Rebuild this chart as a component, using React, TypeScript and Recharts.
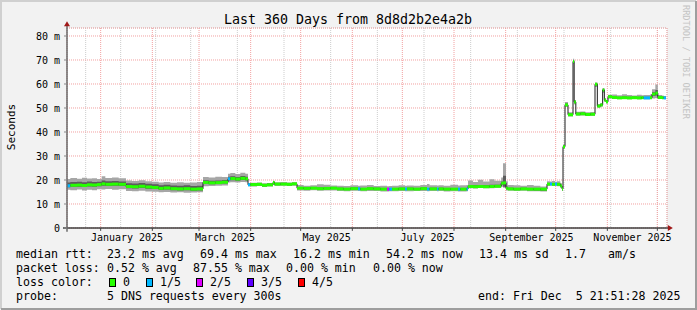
import React from "react";
import {
  ComposedChart,
  Area,
  Line,
  XAxis,
  YAxis,
  CartesianGrid,
  ReferenceLine,
  ReferenceDot,
} from "recharts";

const FONT = "'DejaVu Sans Mono', monospace";

// days since start of the 360 day window
const days = [
  0, 2, 6, 9, 12, 15, 18, 20.8, 23, 27, 31, 35.4, 39, 43, 47, 51, 55, 58, 62, 66, 70, 74, 78,
  81.6, 85, 89, 93, 96.6, 98, 101, 104, 107, 108.6, 110, 114, 117, 120, 123.6, 124.5, 128, 132,
  135, 138, 142, 146, 150, 154, 158, 162, 166, 170, 174.6, 176, 180, 184, 188, 192, 193.3, 195,
  199, 202.8, 204, 208, 212, 216, 217.5, 222, 223, 226, 230, 234.6, 236, 239.8, 240.6, 243.6,
  246.6, 249.6, 253.5, 256.5, 260.5, 261.6, 263.4, 264.5, 268, 272, 276, 280, 284, 288, 289.8,
  291, 292.8, 294, 296, 297, 297.6, 298.8, 300.6, 303.6, 304.3, 305.3, 308, 311, 314, 316.8,
  318.2, 320, 321.4, 322.4, 323.4, 324.6, 327, 330, 333, 336, 339, 342, 344.8, 346, 349.8, 351,
  353, 354.5, 357, 358, 359.4,
];
// median rtt in ms
const median = [
  17.6, 17.8, 17.9, 17.7, 18.0, 17.9, 18.1, 18.4, 18.2, 18.3, 18.2, 17.3, 17.2, 17.4, 17.1, 16.9,
  16.5, 16.7, 16.4, 16.3, 16.4, 16.2, 16.3, 19.0, 18.8, 18.9, 19.1, 20.5, 20.6, 20.4, 20.7, 20.5,
  18.0, 18.1, 18.2, 17.8, 18.0, 19.0, 18.3, 18.3, 18.2, 18.4, 16.6, 16.5, 16.6, 16.4, 16.5, 16.6,
  16.3, 16.2, 16.4, 16.3, 16.2, 16.4, 16.3, 16.2, 16.2, 16.2, 16.2, 16.3, 16.2, 16.3, 16.2, 16.4,
  16.2, 16.3, 16.2, 16.3, 16.2, 16.2, 16.2, 16.2, 16.2, 17.3, 17.2, 17.3, 17.2, 17.3, 17.4, 18.6,
  18.8, 16.6, 16.3, 16.2, 16.3, 16.2, 16.2, 16.2, 18.3, 18.3, 18.2, 18.3, 18.2, 17.5, 16.3, 33.9,
  51.3, 47.2, 69.4, 52.5, 47.5, 47.6, 47.3, 47.4, 59.9, 50.8, 51.3, 57.5, 53.3, 52.6, 54.7, 54.4,
  54.2, 54.3, 54.2, 54.3, 54.2, 54.3, 54.2, 54.3, 55.8, 56.2, 54.4, 54.3, 54.2, 54.2,
];
// outer smoke band (min / max of the pings)
const smokeLow = [
  15.9, 15.7, 16.0, 15.6, 15.9, 15.7, 16.1, 16.0, 16.2, 15.9, 16.1, 15.4, 15.3, 15.5, 15.2, 15.1,
  14.9, 15.0, 14.8, 14.9, 14.7, 14.8, 14.9, 17.4, 17.5, 17.6, 17.7, 19.0, 19.1, 19.0, 19.2, 19.1,
  17.4, 17.3, 17.5, 17.1, 17.3, 18.0, 17.5, 17.6, 17.5, 17.6, 15.6, 15.5, 15.7, 15.5, 15.6, 15.6,
  15.4, 15.3, 15.5, 15.4, 15.3, 15.4, 15.4, 15.2, 15.2, 15.3, 15.3, 15.4, 15.3, 15.3, 15.4, 15.4,
  15.3, 15.4, 15.3, 15.4, 15.2, 15.3, 15.2, 15.2, 15.3, 16.6, 16.5, 16.7, 16.6, 16.6, 16.7, 17.2,
  16.8, 15.6, 15.5, 15.4, 15.5, 15.3, 15.3, 15.2, 17.5, 17.6, 17.6, 17.5, 17.4, 16.8, 15.4, 33.0,
  50.4, 46.5, 68.5, 51.5, 46.8, 46.9, 46.7, 46.8, 58.8, 50.1, 50.5, 56.4, 52.6, 51.9, 54.0, 53.8,
  53.7, 53.8, 53.6, 53.7, 53.6, 53.7, 53.6, 53.7, 54.0, 54.2, 53.7, 53.8, 53.7, 53.7,
];
const smokeHigh = [
  20.4, 20.8, 20.5, 20.9, 20.6, 20.7, 20.4, 21.6, 20.8, 21.0, 20.7, 19.8, 19.6, 19.9, 19.5, 19.3,
  19.0, 19.2, 18.9, 19.1, 18.9, 19.0, 19.2, 21.3, 21.0, 21.4, 21.2, 22.6, 22.9, 22.5, 23.0, 22.6,
  18.8, 18.9, 19.0, 18.6, 18.8, 19.7, 19.1, 19.2, 19.0, 19.1, 17.9, 17.6, 17.8, 18.2, 18.0, 17.7,
  17.6, 17.5, 17.8, 17.6, 17.7, 17.9, 17.5, 17.6, 17.4, 17.5, 17.6, 17.8, 17.6, 17.7, 17.6, 17.9,
  18.3, 17.8, 17.7, 17.8, 17.6, 18.0, 17.7, 17.8, 17.9, 19.8, 19.2, 20.1, 19.4, 20.3, 19.7, 21.0,
  27.0, 19.5, 17.9, 17.8, 17.6, 17.9, 17.6, 17.3, 19.5, 19.4, 19.6, 19.3, 19.5, 18.6, 17.0, 34.8,
  52.5, 48.2, 70.5, 53.3, 48.4, 48.5, 48.2, 48.3, 60.6, 51.7, 52.0, 58.2, 54.1, 53.4, 55.5, 55.6,
  55.3, 55.7, 55.4, 55.2, 55.5, 55.3, 55.4, 55.6, 57.8, 59.8, 55.4, 55.2, 55.0, 55.0,
];
// darker inner smoke band
const coreLow = [
  17.0, 17.2, 17.2, 17.1, 17.3, 17.2, 17.4, 17.6, 17.5, 17.6, 17.5, 16.6, 16.5, 16.7, 16.4, 16.2,
  15.8, 16.0, 15.7, 15.6, 15.7, 15.5, 15.6, 18.4, 18.2, 18.3, 18.5, 19.8, 19.9, 19.7, 20.0, 19.8,
  17.6, 17.7, 17.8, 17.4, 17.6, 18.5, 17.9, 17.9, 17.8, 18.0, 16.2, 16.1, 16.2, 16.0, 16.1, 16.2,
  15.9, 15.8, 16.0, 15.9, 15.8, 16.0, 15.9, 15.8, 15.6, 15.7, 15.8, 15.9, 15.8, 15.9, 15.8, 16.0,
  15.8, 15.9, 15.8, 15.9, 15.7, 15.8, 15.6, 15.7, 15.7, 17.0, 16.9, 17.0, 16.9, 17.0, 17.1, 18.0,
  17.2, 16.2, 15.9, 15.8, 15.9, 15.7, 15.6, 15.5, 17.9, 17.9, 17.8, 17.9, 17.8, 17.1, 15.7, 33.4,
  50.9, 46.8, 69.0, 52.0, 47.1, 47.2, 46.9, 47.0, 59.4, 50.4, 50.9, 57.0, 52.9, 52.2, 54.3, 54.0,
  53.8, 53.9, 53.8, 53.9, 53.8, 53.9, 53.8, 53.9, 55.0, 55.2, 54.0, 53.9, 53.8, 53.8,
];
const coreHigh = [
  19.0, 19.2, 19.3, 19.1, 19.4, 19.2, 19.3, 19.8, 19.5, 19.6, 19.4, 18.6, 18.5, 18.7, 18.4, 18.2,
  17.8, 18.0, 17.7, 17.6, 17.8, 17.5, 17.6, 19.9, 19.7, 19.8, 20.0, 21.4, 21.6, 21.3, 21.7, 21.4,
  18.5, 18.6, 18.7, 18.3, 18.5, 19.4, 18.8, 18.8, 18.7, 18.9, 17.1, 17.0, 17.1, 16.9, 17.0, 17.1,
  16.8, 16.7, 16.9, 16.8, 16.7, 16.9, 16.8, 16.7, 16.5, 16.6, 16.7, 16.8, 16.7, 16.8, 16.7, 16.9,
  16.7, 16.8, 16.7, 16.8, 16.6, 16.7, 16.5, 16.6, 16.6, 17.9, 17.8, 17.9, 17.8, 18.0, 18.0, 19.4,
  21.8, 17.3, 16.8, 16.7, 16.8, 16.6, 16.5, 16.4, 18.8, 18.8, 18.7, 18.8, 18.7, 18.0, 16.6, 34.4,
  51.9, 47.7, 70.0, 53.0, 48.0, 48.1, 47.8, 47.9, 60.3, 51.3, 51.8, 58.0, 53.8, 53.1, 55.2, 54.9,
  54.7, 54.8, 54.7, 54.8, 54.7, 54.8, 54.7, 54.8, 56.6, 57.5, 54.9, 54.8, 54.7, 54.7,
];
// lost pings out of 5
const lossLevel = [
  1, 0, 0, 0, 0, 0, 0, 0, 0, 0, 0, 0, 0, 0, 0, 0, 0, 0, 0, 0, 0, 0, 0, 0, 0, 0, 0, 1, 0, 0, 0, 0,
  1, 0, 0, 0, 0, 0, 0, 0, 0, 0, 0, 0, 0, 0, 0, 0, 0, 0, 0, 1, 0, 0, 0, 0, 2, 1, 0, 0, 1, 0, 0, 0,
  1, 0, 1, 0, 0, 0, 1, 0, 1, 0, 0, 0, 0, 0, 0, 0, 0, 0, 0, 0, 0, 0, 0, 0, 0, 1, 0, 1, 0, 0, 0, 0,
  0, 0, 0, 0, 0, 0, 0, 0, 0, 0, 0, 0, 0, 0, 0, 0, 0, 0, 0, 0, 0, 0, 1, 0, 0, 0, 0, 0, 1, 0, 0,
];

const monthStarts = [20.2, 51.2, 79.2, 110.2, 140.2, 171.2, 201.2, 232.2, 263.2, 293.2, 324.2, 354.2];
const labelDays = [36, 94.8, 155.8, 216.3, 278.7, 339.3];
const monthLabels = ["January 2025", "March 2025", "May 2025", "July 2025", "September 2025", "November 2025"];
const weekTicks = Array.from({ length: 51 }, (_, i) => 4.2 + i * 7);
const yMajor = [0, 10, 20, 30, 40, 50, 60, 70, 80];
const yMinor = [5, 15, 25, 35, 45, 55, 65, 75];

const lossColors = ["#26ff00", "#00b8ff", "#dd00ff", "#5e00ff", "#ff0000"];
const lossLabels = ["0", "1/5", "2/5", "3/5", "4/5"];

const rttStats = [
  [16, "median rtt:"], [107, "23.2 ms avg"], [200, "69.4 ms max"], [293, "16.2 ms min"],
  [386, "54.2 ms now"], [479, "13.4 ms sd"], [565, "1.7"], [608, "am/s"],
];
const lossStats = [
  [16, "packet loss:"], [107, "0.52 % avg"], [193, "87.55 % max"], [286, "0.00 % min"], [373, "0.00 % now"],
];
const probeRow = [[16, "probe:"], [107, "5 DNS requests every 300s"], [478, "end: Fri Dec  5 21:51:28 2025"]];
const lossKeyX = [109, 146, 196, 247, 298];

const rows = days.map((d, i) => ({
  day: d,
  med: median[i],
  smoke: [smokeLow[i], smokeHigh[i]],
  core: [coreLow[i], coreHigh[i]],
  loss: lossLevel[i],
}));

const YMAX = 83.333;
const AX = { xAxisId: "lbl", yAxisId: "maj" };

const upArrow = (p: any) => (
  <path d={`M${p.cx - 3} ${p.cy + 2.5} L${p.cx} ${p.cy - 2.5} L${p.cx + 3} ${p.cy + 2.5} Z`} fill="#a01818" />
);
const rightArrow = (p: any) => (
  <path d={`M${p.cx - 2.5} ${p.cy - 3} L${p.cx + 2.5} ${p.cy} L${p.cx - 2.5} ${p.cy + 3} Z`} fill="#a01818" />
);

const Overlay = () => {
  const t = { fontFamily: FONT, fontSize: 11.6, fill: "#000", style: { whiteSpace: "pre" as const } };
  return (
    <svg width={697} height={310} style={{ position: "absolute", left: 0, top: 0, pointerEvents: "none" }}>
      <path d="M1 309 V1 H696" fill="none" stroke="#d0d0d0" strokeWidth={2} />
      <path d="M1 309 H696 V1" fill="none" stroke="#9e9e9e" strokeWidth={2} />
      <text x={348} y={24} textAnchor="middle" fontFamily={FONT} fontSize={13.3} fill="#000">
        Last 360 Days from 8d8d2b2e4a2b
      </text>
      <text x={14.5} y={127} transform="rotate(-90 14.5 127)" textAnchor="middle" fontFamily={FONT} fontSize={11} fill="#000">
        Seconds
      </text>
      <text x={683} y={5} transform="rotate(90 683 5)" fontFamily={FONT} fontSize={8.6} fill="#c4c4c4" style={{ whiteSpace: "pre" }}>
        RRDTOOL / TOBI OETIKER
      </text>
      {rttStats.map(([x, s]) => (
        <text key={"r" + x} x={x as number} y={258} {...t}>{s}</text>
      ))}
      {lossStats.map(([x, s]) => (
        <text key={"l" + x} x={x as number} y={272} {...t}>{s}</text>
      ))}
      <text x={16} y={286} {...t}>loss color:</text>
      {lossKeyX.map((x, i) => (
        <g key={"k" + i}>
          <rect x={x + 0.5} y={278.5} width={6} height={8} fill={lossColors[i]} stroke="#000" strokeWidth={1} />
          <text x={x + 14} y={286} {...t}>{lossLabels[i]}</text>
        </g>
      ))}
      {probeRow.map(([x, s]) => (
        <text key={"p" + x} x={x as number} y={300} {...t}>{s}</text>
      ))}
    </svg>
  );
};

export default function App() {
  return (
    <div style={{ position: "absolute", left: 0, top: 0, width: 697, height: 310, background: "#f2f2f2" }}>
      <ComposedChart width={697} height={310} data={rows} margin={{ top: 28, right: 30, bottom: 62, left: 10 }}>
        <XAxis
          xAxisId="lbl"
          dataKey="day"
          type="number"
          domain={[0, 360]}
          ticks={labelDays}
          interval={0}
          tickFormatter={(_v: number, i: number) => monthLabels[i]}
          axisLine={false}
          tickLine={false}
          tickSize={0}
          tickMargin={6}
          height={20}
          tick={{ fontFamily: FONT, fontSize: 10, fill: "#000" }}
        />
        <XAxis xAxisId="wk" type="number" dataKey="day" domain={[0, 360]} ticks={weekTicks} hide />
        <XAxis xAxisId="mo" type="number" dataKey="day" domain={[0, 360]} ticks={monthStarts} hide />
        <YAxis
          yAxisId="maj"
          type="number"
          domain={[0, YMAX]}
          ticks={yMajor}
          interval={0}
          width={57}
          axisLine={false}
          tickLine={{ stroke: "#888" }}
          tickSize={3}
          tickMargin={4}
          tickFormatter={(v: number) => (v === 0 ? "0" : `${v} m`)}
          tick={{ fontFamily: FONT, fontSize: 10, fill: "#000" }}
        />
        <YAxis yAxisId="min" type="number" domain={[0, YMAX]} ticks={yMinor} hide />
        <CartesianGrid xAxisId="wk" yAxisId="min" fill="#ffffff" stroke="#cdcdcd" strokeDasharray="1 1" />
        <CartesianGrid xAxisId="mo" yAxisId="maj" fill="none" stroke="#f2a0a0" strokeDasharray="1 1" />

        <Area {...AX} dataKey="smoke" type="stepAfter" stroke="none" fill="#a6a6a6" fillOpacity={1} isAnimationActive={false} />
        <Area {...AX} dataKey="core" type="stepAfter" stroke="none" fill="#5c5c5c" fillOpacity={1} isAnimationActive={false} />
        <Line {...AX} dataKey="med" type="stepAfter" stroke="#1c1c1c" strokeWidth={1} dot={false} activeDot={false} isAnimationActive={false} />

        {rows.slice(0, -1).map((r, i) => (
          <ReferenceLine
            key={"s" + i}
            {...AX}
            segment={[{ x: r.day, y: r.med }, { x: rows[i + 1].day, y: r.med }]}
            stroke={lossColors[r.loss]}
            strokeWidth={3}
          />
        ))}

        {monthStarts.map((m) => (
          <ReferenceLine key={"t" + m} {...AX} segment={[{ x: m, y: 0 }, { x: m, y: -1.2 }]} stroke="#444" ifOverflow="visible" />
        ))}
        <ReferenceLine {...AX} segment={[{ x: -2.4, y: 0 }, { x: 361, y: 0 }]} stroke="#404040" strokeWidth={1.5} ifOverflow="visible" />
        <ReferenceLine {...AX} segment={[{ x: 0, y: -1.6 }, { x: 0, y: 84.5 }]} stroke="#6a6a6a" strokeWidth={1.5} ifOverflow="visible" />
        <ReferenceDot {...AX} x={0} y={85.1} r={3} shape={upArrow} ifOverflow="visible" />
        <ReferenceDot {...AX} x={362} y={0} r={3} shape={rightArrow} ifOverflow="visible" />
      </ComposedChart>
      <Overlay />
    </div>
  );
}
